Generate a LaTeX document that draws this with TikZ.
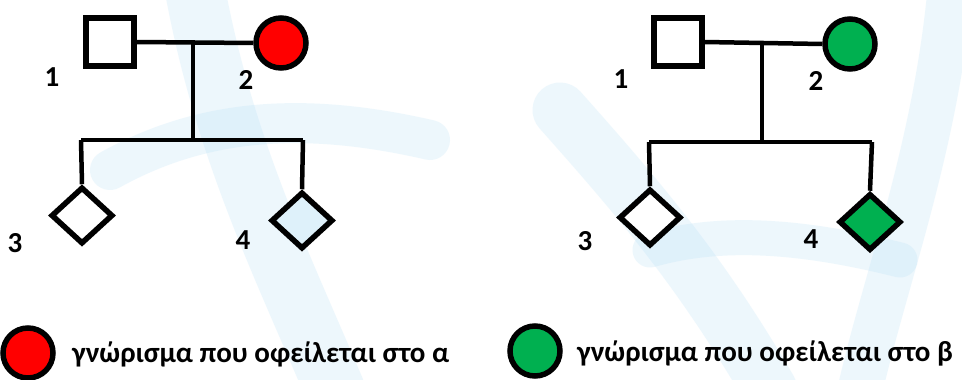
\documentclass[tikz,border=0pt]{standalone}
\usepackage{fontspec}
\setmainfont{Carlito}
\usetikzlibrary{shapes.geometric}
\definecolor{tred}{RGB}{255,0,0}
\definecolor{tgreen}{RGB}{0,176,80}
\definecolor{wmblue}{RGB}{175,220,245}
\definecolor{lblue}{RGB}{222,241,250}
\tikzset{
  sq/.style={draw=black, line width=5.5pt, fill=white, minimum size=48pt, inner sep=0pt},
  circ/.style={circle, draw=black, line width=5.5pt, minimum size=50pt, inner sep=0pt},
  dia/.style={diamond, draw=black, line width=5.5pt, fill=white, minimum width=62pt, minimum height=57pt, inner sep=0pt},
  conn/.style={line width=4.5pt, draw=black},
  lbl/.style={font=\fontsize{29}{32}\selectfont\bfseries, inner sep=0pt},
  leg/.style={font=\fontsize{29}{32}\selectfont\bfseries, inner sep=0pt, anchor=base west},
  wm/.style={draw=wmblue, opacity=0.22, line cap=round}
}
\begin{document}
\begin{tikzpicture}[x=1pt, y=-1pt]
\useasboundingbox (0,0) rectangle (962,380);
\fill[white] (0,0) rectangle (962,380);
% faint watermark
\begin{scope}
\clip (0,0) rectangle (962,380);
\draw[wm, line width=60pt] (195,-10) .. controls (225,150) and (280,260) .. (335,390);
\draw[wm, line width=40pt] (110,170) .. controls (200,120) and (300,110) .. (430,140);
\draw[wm, line width=55pt] (560,110) .. controls (640,200) and (700,270) .. (770,390);
\draw[wm, line width=45pt] (950,-10) .. controls (935,150) and (885,280) .. (860,390);
\draw[wm, line width=35pt] (650,250) .. controls (720,230) and (800,235) .. (900,260);
\end{scope}

% ---------- left pedigree ----------
\node[sq] (a1) at (110,42) {};
\node[circ, fill=tred] (a2) at (281,43) {};
\coordinate (am) at (193,42);
\coordinate (asm) at (193,140);
\coordinate (asl) at (81,140);
\coordinate (asr) at (303,140);
\node[dia] (a3) at (82,215.5) {};
\node[dia, fill=lblue] (a4) at (302,220.5) {};
\draw[conn] (a1.east) -- (a2.west);
\draw[conn] (am) -- (asm);
\draw[conn] (asl) -- (asr);
\draw[conn] (asl) -- (a3.north);
\draw[conn] (asr) -- (a4.north);
\node[lbl] (la1) at (52,77) {1};
\node[lbl] (la2) at (246,80) {2};
\node[lbl] (la3) at (15,243) {3};
\node[lbl] (la4) at (243,240) {4};

% ---------- right pedigree ----------
\node[sq] (b1) at (678,42) {};
\node[circ, fill=tgreen] (b2) at (850,44) {};
\coordinate (bm) at (762,43);
\coordinate (bsm) at (762,142);
\coordinate (bsl) at (649,142);
\coordinate (bsr) at (872,142);
\node[dia] (b3) at (650,217.5) {};
\node[dia, fill=tgreen] (b4) at (870,222) {};
\draw[conn] (b1.east) -- (b2.west);
\draw[conn] (bm) -- (bsm);
\draw[conn] (bsl) -- (bsr);
\draw[conn] (bsl) -- (b3.north);
\draw[conn] (bsr) -- (b4.north);
\node[lbl] (lb1) at (621,79) {1};
\node[lbl] (lb2) at (816,81) {2};
\node[lbl] (lb3) at (585,241) {3};
\node[lbl] (lb4) at (811,239) {4};

% ---------- legend ----------
\node[circ, fill=tred] (ka) at (28,353) {};
\node[leg] (ta) at (72,362) {γνώρισμα που οφείλεται στο α};
\node[circ, fill=tgreen] (kb) at (535,351) {};
\node[leg] (tb) at (577,361) {γνώρισμα που οφείλεται στο β};
\end{tikzpicture}
\end{document}
